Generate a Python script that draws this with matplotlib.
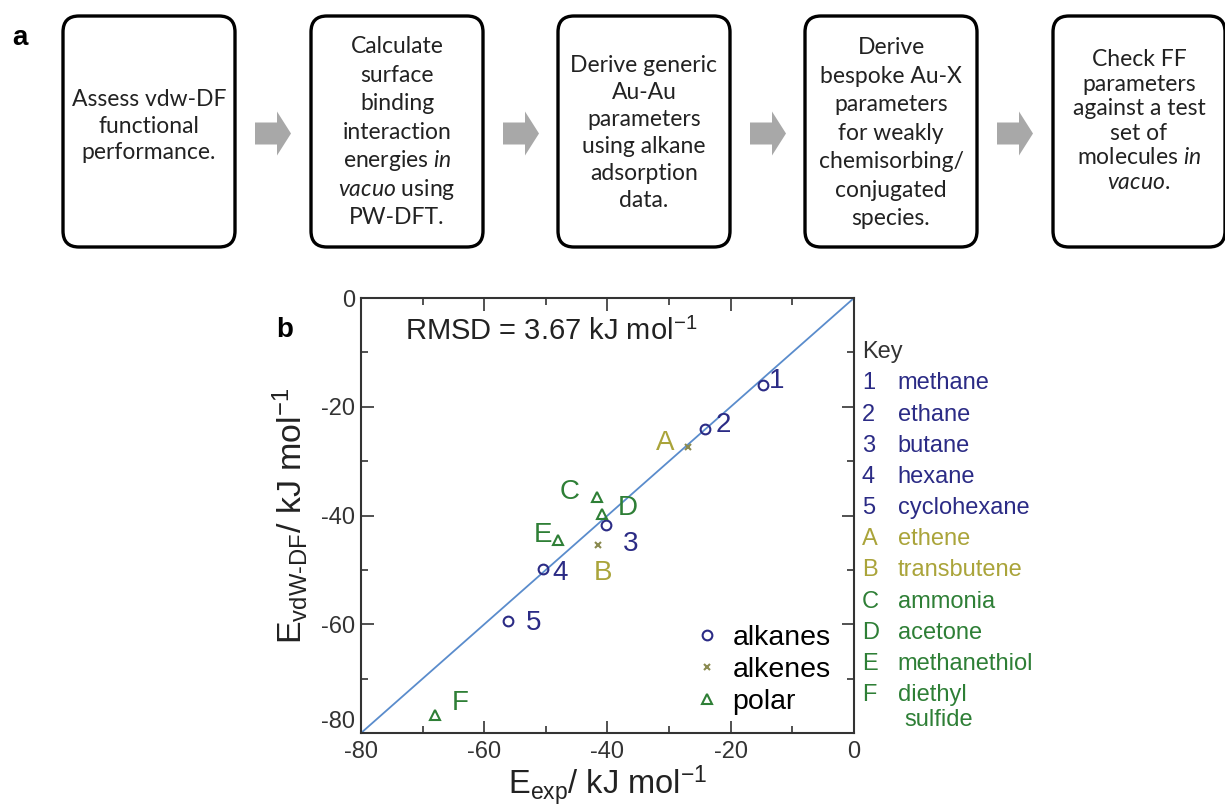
import numpy as np
import matplotlib
matplotlib.use('Agg')
import matplotlib.pyplot as plt
from matplotlib.patches import FancyBboxPatch, Polygon

plt.rcParams['font.family'] = ['Liberation Sans', 'DejaVu Sans']
plt.rcParams['axes.unicode_minus'] = False
plt.rcParams['mathtext.fontset'] = 'custom'
plt.rcParams['mathtext.rm'] = 'Lato'
plt.rcParams['mathtext.it'] = 'Lato:italic'

# ---- data ----
box_lines = [
    ["Assess vdw-DF", "functional", "performance."],
    ["Calculate", "surface", "binding", "interaction", r"energies $\mathit{in}$",
     r"$\mathit{vacuo}$ using", "PW-DFT."],
    ["Derive generic", "Au-Au", "parameters", "using alkane", "adsorption", "data."],
    ["Derive", "bespoke Au-X", "parameters", "for weakly", "chemisorbing/",
     "conjugated", "species."],
    ["Check FF", "parameters", "against a test", "set of", r"molecules $\mathit{in}$",
     r"$\mathit{vacuo}$."],
]

alkane_x = [-14.8, -24.2, -40.3, -50.5, -56.1]
alkane_y = [-16.0, -24.0, -41.7, -49.9, -59.4]
alkane_lab = ["1", "2", "3", "4", "5"]
alkene_x = [-26.9, -41.6]
alkene_y = [-27.4, -45.4]
alkene_lab = ["A", "B"]
polar_x = [-41.7, -40.9, -48.0, -68.0]
polar_y = [-36.6, -39.7, -44.5, -76.7]
polar_lab = ["C", "D", "E", "F"]

key_ids = ["1", "2", "3", "4", "5", "A", "B", "C", "D", "E", "F"]
key_names = ["methane", "ethane", "butane", "hexane", "cyclohexane", "ethene",
             "transbutene", "ammonia", "acetone", "methanethiol", "diethyl"]
key_group = [0, 0, 0, 0, 0, 1, 1, 2, 2, 2, 2]

c_alk = '#2b2b85'
c_ene = '#aaa43a'
c_pol = '#2e7f36'
group_col = [c_alk, c_ene, c_pol]

fig = plt.figure(figsize=(12.25, 8.09), dpi=100)

# ---- panel a (pixel coordinates) ----
bg = fig.add_axes([0, 0, 1, 1])
bg.set_xlim(0, 1225)
bg.set_ylim(809, 0)
bg.axis('off')

box_left = [63, 311, 558, 805, 1053]
box_w = 172
box_top, box_bot = 16, 247
line_step = [26.5, 28.5, 27, 28.5, 24.5]
text_mid = [126, 132, 133, 133, 121]
for i, x0 in enumerate(box_left):
    p = FancyBboxPatch((x0 + 16, box_top + 16), box_w - 32, box_bot - box_top - 32,
                       boxstyle="round,pad=16", fc='white', ec='black', lw=2.4)
    bg.add_patch(p)
    lines = box_lines[i]
    y0 = text_mid[i] - line_step[i] * (len(lines) - 1) / 2
    for j, ln in enumerate(lines):
        bg.text(x0 + box_w / 2, y0 + j * line_step[i], ln, ha='center', va='center',
                fontsize=16.5, family='Lato', color='#222222')

for i in range(4):
    xa = box_left[i] + box_w + 20
    yc = (box_top + box_bot) / 2 + 2
    arrow = Polygon([(xa, yc - 11), (xa + 22, yc - 11), (xa + 22, yc - 22),
                     (xa + 36, yc), (xa + 22, yc + 22), (xa + 22, yc + 11),
                     (xa, yc + 11)], closed=True, fc='#a8a8a8', ec='none')
    bg.add_patch(arrow)

bg.text(12, 38, 'a', fontsize=20, fontweight='bold', va='center')
bg.text(276, 330, 'b', fontsize=20, fontweight='bold', va='center')

# ---- panel b ----
ax = fig.add_axes([0.2947, 0.0939, 0.4024, 0.5377])
ax.patch.set_alpha(0)
ax.plot([-80, 0], [-80, 0], color='#5a8ccc', lw=1.3, zorder=1)
ax.plot(alkane_x, alkane_y, 'o', ms=7, mfc='none', mec=c_alk, mew=1.5, label='alkanes')
ax.plot(alkene_x, alkene_y, 'x', ms=5, color='#8a8a50', mew=1.5, label='alkenes')
ax.plot(polar_x, polar_y, '^', ms=7, mfc='none', mec=c_pol, mew=1.5, label='polar')

lab_off = {"1": (1.0, 0.8, 'left'), "2": (1.8, 0.6, 'left'), "3": (2.8, -3.5, 'left'),
           "4": (1.5, -0.6, 'left'), "5": (2.8, -0.3, 'left'),
           "A": (-2.2, 0.8, 'right'), "B": (0.8, -5.2, 'center'),
           "C": (-2.8, 1.0, 'right'), "D": (2.6, 1.0, 'left'),
           "E": (-1.0, 1.0, 'right'), "F": (2.8, 2.2, 'left')}
for xs, ys, labs, col in [(alkane_x, alkane_y, alkane_lab, c_alk),
                          (alkene_x, alkene_y, alkene_lab, c_ene),
                          (polar_x, polar_y, polar_lab, c_pol)]:
    for x, y, l in zip(xs, ys, labs):
        dx, dy, ha = lab_off[l]
        ax.text(x + dx, y + dy, l, color=col, fontsize=20, ha=ha, va='center')

ax.set_xlim(-80, 0)
ax.set_ylim(-80, 0)
ax.set_xticks(np.arange(-80, 1, 20))
ax.set_yticks(np.arange(-80, 1, 20))
ax.set_xticks(np.arange(-80, 1, 10), minor=True)
ax.set_yticks(np.arange(-80, 1, 10), minor=True)
ax.tick_params(which='both', direction='in', top=True, right=True,
               labelsize=17, width=1.2, colors='#333333')
ax.tick_params(which='major', length=9)
ax.tick_params(which='minor', length=5)
ax.tick_params(axis='x', pad=6)
ax.tick_params(axis='y', pad=4)
for s in ax.spines.values():
    s.set_linewidth(1.5)
    s.set_color('#333333')
# lowest y label sits a little higher, as in the original corner
ax.get_yticklabels()[0].set_va('bottom')

ax.set_xlabel('E$_\\mathregular{exp}$/ kJ mol$^\\mathregular{-1}$', fontsize=23.5,
              labelpad=0, color='#222222')
ax.set_ylabel('E$_\\mathregular{vdW\u2010DF}$/ kJ mol$^\\mathregular{-1}$', fontsize=24.5,
              labelpad=8, color='#222222')
ax.text(-72.8, -6.2, 'RMSD = 3.67 kJ mol$^\\mathregular{-1}$', fontsize=21,
        va='center', color='#222222')

leg = ax.legend(loc='center left', bbox_to_anchor=(0.65, 0.145), fontsize=20.5,
                frameon=False, handletextpad=0.4, labelspacing=0.2,
                borderaxespad=0.0, handlelength=1.0)

# key column right of the axes
kx = 1.016
ax.text(kx, 0.875, 'Key', transform=ax.transAxes, fontsize=17, color='#333333',
        va='center')
for i, (kid, nm, g) in enumerate(zip(key_ids, key_names, key_group)):
    yy = 1 - (15.7 + 5.73 * i) / 80
    ax.text(kx, yy, kid, transform=ax.transAxes, fontsize=17, color=group_col[g],
            va='center')
    ax.text(kx + 0.073, yy, nm, transform=ax.transAxes, fontsize=17,
            color=group_col[g], va='center')
ax.text(kx + 0.087, 1 - 77.6 / 80, 'sulfide', transform=ax.transAxes,
        fontsize=17, color=c_pol, va='center')

fig.savefig('out.png', dpi=100)
